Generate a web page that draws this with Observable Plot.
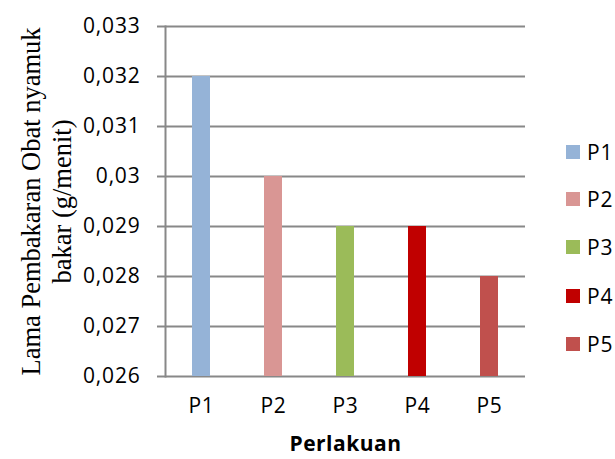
<!DOCTYPE html>
<html>
<head>
<meta charset="utf-8">
<script src="https://cdn.jsdelivr.net/npm/d3@7"></script>
<script src="https://cdn.jsdelivr.net/npm/@observablehq/plot@0.6"></script>
<style>
  html, body { margin: 0; padding: 0; background: #fff; }
  #wrap { position: relative; width: 615px; height: 459px; }
  #legend { position: absolute; left: 566px; top: 0; font-family: "Open Sans", sans-serif; font-size: 21px; letter-spacing: 0.8px; color: #000; }
  .item { position: absolute; left: 0; display: flex; align-items: center; white-space: nowrap; transform: translateY(-50%); }
  .sw { width: 14px; height: 14px; margin-right: 7px; }
  svg text { letter-spacing: 0.8px; }
  svg g.ytitle text { letter-spacing: 0; }
  svg g.xtitle text { letter-spacing: 0.5px; }
</style>
</head>
<body>
<div id="wrap"></div>
<script>
const categories = ["P1", "P2", "P3", "P4", "P5"];
const values = [0.032, 0.030, 0.029, 0.029, 0.028];
const colors = ["#95B3D7", "#D99694", "#9BBB59", "#C00000", "#C0504D"];
const yTicks = [0.026, 0.027, 0.028, 0.029, 0.030, 0.031, 0.032, 0.033];
const yTickLabels = ["0,026", "0,027", "0,028", "0,029", "0,03", "0,031", "0,032", "0,033"];
const xTitle = "Perlakuan";
const yTitle = "Lama Pembakaran Obat nyamuk\nbakar (g/menit)";

const data = categories.map((c, i) => ({cat: c, value: values[i]}));
const yMin = yTicks[0];

const chart = Plot.plot({
  width: 615,
  height: 459,
  marginLeft: 165,
  marginRight: 90,
  marginTop: 26,
  marginBottom: 83,
  style: {fontFamily: "'Open Sans', sans-serif", fontSize: "21px", color: "#000", background: "#fff"},
  x: {domain: categories, paddingInner: 0.75, paddingOuter: 0.375},
  y: {domain: [yTicks[0], yTicks[yTicks.length - 1]]},
  color: {domain: categories, range: colors},
  marks: [
    Plot.gridY(yTicks, {stroke: "#888", strokeOpacity: 1, strokeWidth: 2}),
    Plot.barY(data, {x: "cat", y1: () => yMin, y2: "value", fill: "cat"}),
    Plot.frame({anchor: "left", stroke: "#888", strokeWidth: 2}),
    Plot.axisY(yTicks, {tickSize: 8, tickPadding: 17, stroke: "#888", strokeWidth: 2, tickFormat: (d, i) => yTickLabels[i], label: null, fill: "#000", fontSize: 21}),
    Plot.axisX({tickSize: 0, tickPadding: 22, label: null, fill: "#000", fontSize: 21}),
    Plot.text([xTitle], {className: "xtitle", frameAnchor: "bottom", dy: 74, fontWeight: "bold", fontSize: 21, fill: "#000"}),
    Plot.text([yTitle], {className: "ytitle", frameAnchor: "left", textAnchor: "middle", lineAnchor: "middle", dx: -120, rotate: -90, fontFamily: "'Liberation Serif', serif", fontSize: 26.5, lineHeight: 1.17, fill: "#000"})
  ]
});
const wrap = document.getElementById("wrap");
wrap.appendChild(chart);

const legend = document.createElement("div");
legend.id = "legend";
const legendY = [152, 199, 247, 296, 344];
categories.forEach((c, i) => {
  const it = document.createElement("div");
  it.className = "item";
  it.style.top = legendY[i] + "px";
  const sw = document.createElement("span");
  sw.className = "sw";
  sw.style.background = colors[i];
  const t = document.createElement("span");
  t.textContent = c;
  it.appendChild(sw);
  it.appendChild(t);
  legend.appendChild(it);
});
wrap.appendChild(legend);
</script>
</body>
</html>
